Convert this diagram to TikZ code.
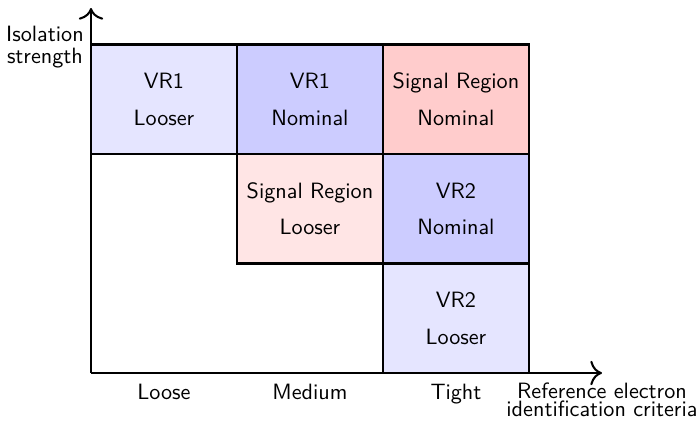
\documentclass[tikz,border=0pt]{standalone}
\usepackage{fontspec}
\renewcommand{\familydefault}{\sfdefault}
\usetikzlibrary{arrows.meta,positioning}
\tikzset{
    region cell/.style={
        draw,
        line width=1pt,
        minimum width=2.5cm,
        minimum height=1.875cm,
        align=center,
        font=\fontsize{10.8}{17.8}\selectfont
    },
    axis arrow/.style={-{To[scale=1.5]}, line width=1pt},
    axis title/.style={align=center, font=\fontsize{10.8}{9}\selectfont},
    crit label/.style={anchor=north, font=\fontsize{10.8}{13}\selectfont}
}

\begin{document}
\begin{tikzpicture}[x=1cm,y=1cm]
    \useasboundingbox (-1.558,-0.805) rectangle (10.394,6.387);

    \coordinate (origin) at (0,0);
    \coordinate (ytip) at (0,6.25);
    \coordinate (xtip) at (8.75,0);

    \node[region cell, fill=blue!10] (vr1loose) at (1.25,4.6875) {VR1\\Looser};
    \node[region cell, fill=blue!20] (vr1nom) at (3.75,4.6875) {VR1\\Nominal};
    \node[region cell, fill=red!20] (srnom) at (6.25,4.6875) {Signal Region\\Nominal};
    \node[region cell, fill=red!10] (srloose) at (3.75,2.8125) {Signal Region\\Looser};
    \node[region cell, fill=blue!20] (vr2nom) at (6.25,2.8125) {VR2\\Nominal};
    \node[region cell, fill=blue!10] (vr2loose) at (6.25,0.9375) {VR2\\Looser};

    \draw[axis arrow] (origin) -- (ytip);
    \draw[axis arrow] (origin) -- (xtip);

    \node[axis title, anchor=east, font=\fontsize{10.8}{11}\selectfont] (isolabel) at (0,5.58) {Isolation\\strength};
    \node[axis title, below=1.2pt of xtip] (idlabel) {Reference electron\\identification criteria};

    \node[crit label] (loose) at (1.25,-0.07) {Loose};
    \node[crit label] (medium) at (3.75,-0.07) {Medium};
    \node[crit label] (tight) at (6.25,-0.07) {Tight};
\end{tikzpicture}
\end{document}
